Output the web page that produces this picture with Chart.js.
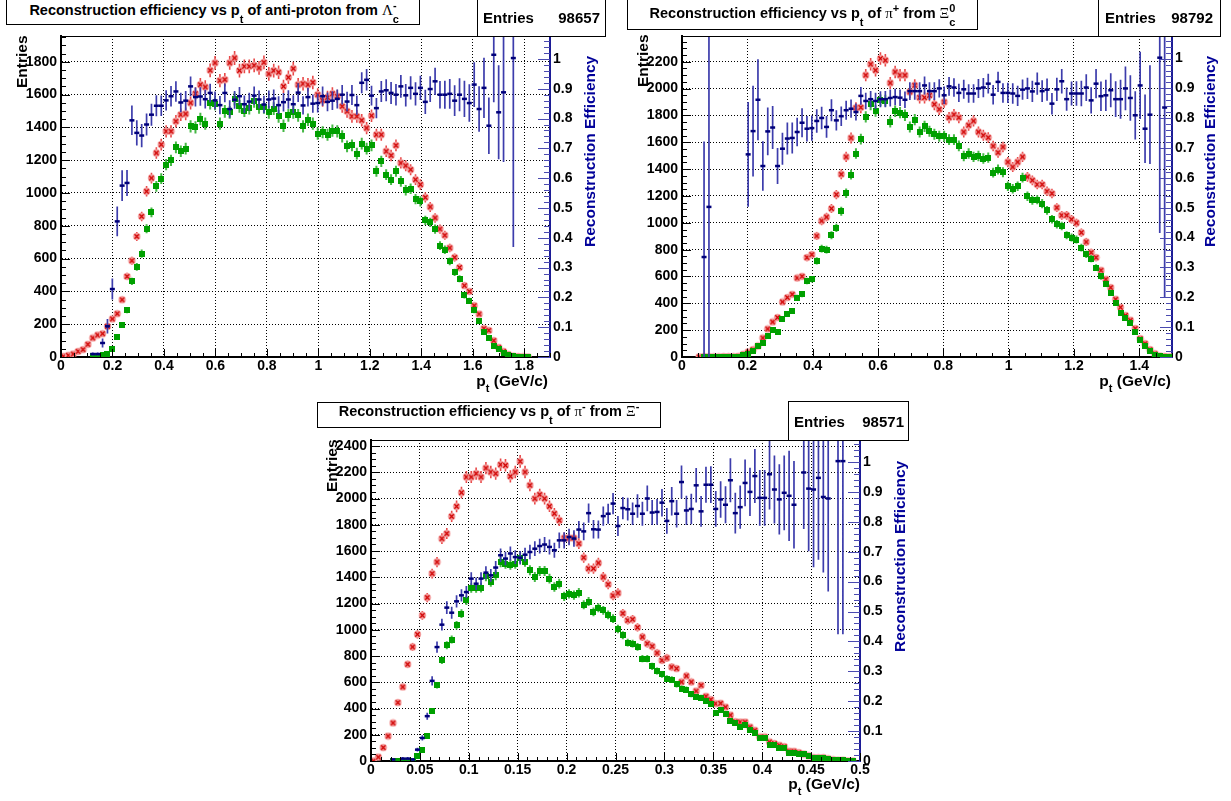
<!DOCTYPE html>
<html>
<head>
<meta charset="utf-8">
<script src="https://cdn.jsdelivr.net/npm/chart.js@4.4.1/dist/chart.umd.min.js"></script>
<style>
  body { margin:0; width:1231px; height:801px; background:#fff; position:relative; overflow:hidden;
         font-family:"Liberation Sans", Arial, Helvetica, sans-serif; font-weight:bold; color:#000; }
  canvas { position:absolute; display:block; }
  .pave { position:absolute; box-sizing:border-box; border:1px solid #000; background:#fff; }
  .t { position:absolute; white-space:nowrap; line-height:18px; }
  .ttl { font-size:14.5px; text-align:center; }
  .stat { font-size:15px; display:flex; justify-content:space-between; }
  .ax { font-size:15.5px; }
  .rot { transform-origin:0 0; transform:rotate(-90deg); }
  .eff { color:#000099; }
  .gr { font-family:"Liberation Serif", "DejaVu Serif", serif; font-weight:normal; font-size:15px; }
  .sub { font-size:11px; position:relative; top:8px; }
  .sup { font-size:11px; position:relative; top:-6px; }
  .stack { margin-left:-6px; }
  .xsub { font-size:11px; position:relative; top:6px; }
</style>
</head>
<body>

<canvas id="c1" width="615" height="395" style="left:0;top:0"></canvas>
<canvas id="c2" width="616" height="395" style="left:615px;top:0"></canvas>
<canvas id="c3" width="640" height="406" style="left:300px;top:395px"></canvas>

<!-- panel 1 texts -->
<div class="pave" style="left:6px;top:-1px;width:414px;height:26px"></div>
<div class="t ttl" style="left:6px;top:1px;width:414px">Reconstruction efficiency vs p<span class="sub">t</span> of anti-proton from <span class="gr">Λ</span><span class="sub">c</span><span class="sup stack">-</span></div>
<div class="pave" style="left:477px;top:-1px;width:129px;height:38px"></div>
<div class="t stat" style="left:483px;top:8.5px;width:117px"><span>Entries</span><span>98657</span></div>
<div class="t ax rot" style="left:12.6px;top:88px">Entries</div>
<div class="t ax rot eff" style="left:580.6px;top:247px">Reconstruction Efficiency</div>
<div class="t ax" style="right:683px;top:371.6px">p<span class="xsub">t</span> (GeV/c)</div>

<!-- panel 2 texts -->
<div class="pave" style="left:627px;top:-1px;width:351px;height:31px"></div>
<div class="t ttl" style="left:627px;top:3.5px;width:351px">Reconstruction efficiency vs p<span class="sub">t</span> of <span class="gr">π</span><span class="sup">+</span> from <span class="gr">Ξ</span><span class="sub">c</span><span class="sup stack">0</span></div>
<div class="pave" style="left:1098px;top:-1px;width:123px;height:38px"></div>
<div class="t stat" style="left:1105px;top:9px;width:108px"><span>Entries</span><span>98792</span></div>
<div class="t ax rot" style="left:633.6px;top:87px">Entries</div>
<div class="t ax rot eff" style="left:1200.6px;top:247px">Reconstruction Efficiency</div>
<div class="t ax" style="right:60px;top:371.6px">p<span class="xsub">t</span> (GeV/c)</div>

<!-- panel 3 texts -->
<div class="pave" style="left:317px;top:402px;width:344px;height:26px"></div>
<div class="t ttl" style="left:317px;top:402px;width:344px">Reconstruction efficiency vs p<span class="sub">t</span> of <span class="gr">π</span><span class="sup">-</span> from <span class="gr">Ξ</span><span class="sup">-</span></div>
<div class="pave" style="left:788px;top:401px;width:121px;height:40px"></div>
<div class="t stat" style="left:794px;top:413px;width:110px"><span>Entries</span><span>98571</span></div>
<div class="t ax rot" style="left:322.6px;top:492px">Entries</div>
<div class="t ax rot eff" style="left:890.6px;top:652px">Reconstruction Efficiency</div>
<div class="t ax" style="right:371px;top:775px">p<span class="xsub">t</span> (GeV/c)</div>

<script>
const FONT = '"Liberation Sans", Arial, Helvetica, sans-serif';
const NBINS = 100;

// histogram ranges (100 bins each)
const P1_RANGE = [0, 1.9];
const P2_RANGE = [0, 1.5];
const P3_RANGE = [0, 0.5];

// tick labels
const P1_XTICKS = [0, 0.2, 0.4, 0.6, 0.8, 1, 1.2, 1.4, 1.6, 1.8];
const P1_YTICKS = [0, 200, 400, 600, 800, 1000, 1200, 1400, 1600, 1800];
const P2_XTICKS = [0, 0.2, 0.4, 0.6, 0.8, 1, 1.2, 1.4];
const P2_YTICKS = [0, 200, 400, 600, 800, 1000, 1200, 1400, 1600, 1800, 2000, 2200];
const P3_XTICKS = [0, 0.05, 0.1, 0.15, 0.2, 0.25, 0.3, 0.35, 0.4, 0.45, 0.5];
const P3_YTICKS = [0, 200, 400, 600, 800, 1000, 1200, 1400, 1600, 1800, 2000, 2200, 2400];
const EFF_TICKS = [0, 0.1, 0.2, 0.3, 0.4, 0.5, 0.6, 0.7, 0.8, 0.9, 1];

// anti-proton from Lambda_c : all (red), reconstructed (green), efficiency (blue)
const P1_ALL = [
  4, 10, 18, 34, 45, 77, 116, 134, 142, 187,
  232, 264, 349, 491, 587, 735, 857, 1010, 1091, 1244,
  1295, 1376, 1376, 1437, 1477, 1482, 1549, 1605, 1660, 1646,
  1748, 1793, 1685, 1691, 1793, 1823, 1746, 1772, 1772, 1778,
  1762, 1796, 1726, 1746, 1736, 1650, 1705, 1758, 1660, 1666,
  1660, 1674, 1599, 1565, 1583, 1605, 1589, 1528, 1498, 1467,
  1467, 1443, 1396, 1471, 1355, 1355, 1254, 1229, 1290, 1183,
  1166, 1142, 1081, 1051, 973, 915, 848, 780, 742, 665,
  607, 546, 435, 400, 313, 262, 173, 162, 100, 59,
  34, 15, 5, 3, 1, 0, null, null, null, null
];
const P1_RECO = [
  null, null, null, null, null, null, 4, 4, 10, 20,
  51, 120, 197, 284, 461, 549, 630, 782, 882, 1040,
  1087, 1173, 1199, 1278, 1254, 1270, 1406, 1400, 1451, 1423,
  1549, 1543, 1423, 1498, 1491, 1573, 1528, 1502, 1518, 1559,
  1522, 1522, 1491, 1514, 1467, 1410, 1473, 1491, 1473, 1406,
  1447, 1423, 1362, 1370, 1355, 1380, 1376, 1345, 1284, 1290,
  1240, 1301, 1270, 1290, 1132, 1193, 1112, 1081, 1132, 1071,
  1016, 1026, 963, 949, 833, 821, 780, 679, 654, 583,
  516, 477, 376, 343, 284, 217, 150, 115, 68, 50,
  25, 12, 5, 2, 0, 0, null, null, null, null
];
const P1_EFF = [
  null, null, null, null, null, null, 0.01, 0.01, 0.047, 0.103,
  0.228, 0.455, 0.575, 0.584, 0.794, 0.752, 0.743, 0.78, 0.813, 0.843,
  0.843, 0.861, 0.875, 0.891, 0.854, 0.86, 0.908, 0.872, 0.874, 0.865,
  0.886, 0.861, 0.845, 0.886, 0.832, 0.863, 0.875, 0.848, 0.857, 0.877,
  0.864, 0.847, 0.864, 0.867, 0.845, 0.855, 0.864, 0.848, 0.887, 0.844,
  0.872, 0.85, 0.852, 0.875, 0.856, 0.86, 0.866, 0.88, 0.857, 0.879,
  0.845, 0.92, 0.93, 0.877, 0.835, 0.891, 0.895, 0.886, 0.88, 0.908,
  0.878, 0.903, 0.883, 0.903, 0.856, 0.899, 0.925, 0.88, 0.88, 0.883,
  0.86, 0.88, 0.866, 0.852, 0.914, 0.832, 0.903, 0.776, 1.014, 0.821,
  0.888, null, 1.003, null, null, null, null, null, null, null
];

// pi+ from Xi_c^0
const P2_ALL = [
  null, null, null, 0, 3, 2, 1, 1, 3, 3,
  2, 5, 20, 37, 55, 82, 142, 209, 261, 294,
  410, 443, 467, 589, 601, 741, 763, 902, 1014, 1043,
  1106, 1210, 1362, 1491, 1632, 1856, 1860, 2100, 2182, 2137,
  2224, 2211, 2042, 2124, 2100, 2100, 1975, 2025, 1933, 1933,
  1950, 1883, 1846, 1900, 1784, 1806, 1784, 1677, 1727, 1759,
  1677, 1652, 1635, 1572, 1523, 1565, 1453, 1416, 1453, 1491,
  1342, 1317, 1285, 1285, 1235, 1218, 1113, 1056, 1056, 1026,
  999, 927, 857, 778, 741, 646, 579, 517, 430, 370,
  310, 274, 212, 137, 100, 55, 25, 7, 4, 1
];
const P2_RECO = [
  null, null, null, null, 1, 1, 0, 0, 2, 2,
  0, 0, 12, 25, 45, 80, 104, 157, 199, 186,
  286, 318, 343, 443, 467, 566, 579, 716, 808, 800,
  907, 962, 1086, 1220, 1359, 1516, 1623, 1789, 1883, 1834,
  1913, 1910, 1752, 1831, 1821, 1801, 1714, 1769, 1677, 1719,
  1682, 1660, 1645, 1645, 1620, 1620, 1573, 1498, 1516, 1491,
  1498, 1479, 1486, 1374, 1397, 1376, 1272, 1253, 1273, 1337,
  1198, 1168, 1172, 1143, 1093, 1026, 989, 976, 907, 890,
  875, 815, 765, 733, 666, 600, 545, 480, 400, 330,
  290, 250, 190, 125, 80, 43, 18, 5, 3, 1
];
const P2_EFF = [
  null, null, null, null, 0.335, 0.503, null, null, null, null,
  null, null, null, 0.679, 0.757, 0.862, 0.64, 0.756, 0.769, 0.64,
  0.698, 0.732, 0.734, 0.754, 0.785, 0.765, 0.767, 0.791, 0.801, 0.771,
  0.827, 0.793, 0.807, 0.827, 0.832, 0.821, 0.875, 0.858, 0.864, 0.858,
  0.864, 0.864, 0.868, 0.871, 0.869, 0.862, 0.891, 0.891, 0.891, 0.91,
  0.891, 0.891, 0.9, 0.877, 0.907, 0.903, 0.885, 0.897, 0.883, 0.883,
  0.9, 0.903, 0.916, 0.879, 0.922, 0.885, 0.885, 0.883, 0.875, 0.896,
  0.9, 0.89, 0.916, 0.891, 0.896, 0.849, 0.897, 0.924, 0.864, 0.883,
  0.883, 0.883, 0.903, 0.86, 0.916, 0.874, 0.877, 0.894, 0.864, 0.864,
  0.9, 0.868, 0.81, 0.91, 0.765, 0.812, null, 1.003, 0.836, null
];

// pi- from Xi-
const P3_ALL = [
  0, 30, 102, 190, 290, 445, 564, 737, 869, 965,
  1110, 1245, 1428, 1516, 1694, 1733, 1864, 1940, 2045, 2164,
  2164, 2190, 2164, 2232, 2202, 2190, 2258, 2253, 2169, 2202,
  2283, 2202, 2101, 1999, 2030, 1999, 1941, 1885, 1834, 1699,
  1699, 1699, 1656, 1550, 1466, 1466, 1509, 1402, 1346, 1260,
  1280, 1125, 1072, 1080, 1018, 945, 894, 874, 823, 767,
  785, 716, 704, 602, 648, 602, 533, 577, 493, 468,
  437, 440, 411, 350, 300, 297, 297, 259, 234, 183,
  183, 145, 133, 120, 110, 75, 74, 64, 53, 40,
  26, 25, 26, 17, 9, 6, 6, 0, 0, null
];
const P3_RECO = [
  null, null, null, null, 1, 0, 2, 2, 1, 38,
  82, 190, 381, 577, 767, 882, 925, 1034, 1123, 1224,
  1318, 1318, 1321, 1407, 1364, 1415, 1516, 1504, 1496, 1504,
  1550, 1520, 1453, 1402, 1448, 1448, 1390, 1326, 1352, 1254,
  1273, 1264, 1282, 1190, 1215, 1136, 1168, 1148, 1113, 1085,
  1006, 958, 902, 894, 869, 780, 780, 721, 686, 660,
  628, 620, 584, 552, 544, 508, 488, 483, 455, 437,
  366, 386, 356, 305, 290, 259, 272, 239, 213, 175,
  175, 122, 122, 102, 97, 64, 64, 56, 51, 36,
  23, 23, 23, 15, 8, 6, 6, 0, 0, null
];
const P3_EFF = [
  null, null, null, null, 0.005, null, 0.008, 0.008, 0.005, 0.038,
  0.077, 0.15, 0.268, 0.381, 0.456, 0.513, 0.496, 0.534, 0.554, 0.565,
  0.61, 0.593, 0.61, 0.63, 0.621, 0.647, 0.688, 0.677, 0.694, 0.682,
  0.68, 0.69, 0.699, 0.71, 0.719, 0.724, 0.716, 0.705, 0.738, 0.738,
  0.749, 0.744, 0.774, 0.768, 0.829, 0.775, 0.774, 0.819, 0.827, 0.861,
  0.786, 0.846, 0.842, 0.827, 0.853, 0.827, 0.878, 0.831, 0.833, 0.864,
  0.803, 0.869, 0.827, 0.933, 0.838, 0.843, 0.922, 0.835, 0.924, 0.924,
  0.843, 0.875, 0.857, 0.939, 0.829, 0.849, 0.93, 0.9, 0.953, 0.88,
  0.88, 0.959, 0.908, 0.875, 0.897, 0.887, 0.857, null, 0.965, 0.911,
  0.908, 0.947, 0.883, 0.878, null, 1.003, 1.003, null, null, null
];

const AXIS_BLUE = '#1c1c96';

function binCenters(range) {
  const w = (range[1] - range[0]) / NBINS;
  return Array.from({ length: NBINS }, (_, i) => range[0] + (i + 0.5) * w);
}

// poisson errors on counts
function countPoints(vals, xc) {
  return vals.map((v, i) => v === null ? null : { x: xc[i], y: v, e: Math.sqrt(v) }).filter(Boolean);
}

// ratio errors from the two count histograms
function effPoints(vals, reco, all, xc) {
  return vals.map((v, i) => {
    if (v === null) return null;
    const g = reco[i], r = all[i];
    const e = g > 0 && r > 0 ? v * Math.sqrt(1 / g + 1 / r) : 0;
    return { x: xc[i], y: v, e: e };
  }).filter(Boolean);
}

function marker(size, draw) {
  const c = document.createElement('canvas');
  c.width = c.height = size;
  draw(c.getContext('2d'), size / 2);
  return c;
}
const redMark = marker(9, (g, m) => {
  g.fillStyle = '#f39a9a';
  g.beginPath(); g.arc(m, m, 3.7, 0, 2 * Math.PI); g.fill();
  g.strokeStyle = '#d00000'; g.lineWidth = 1.3;
  g.beginPath();
  g.moveTo(m - 2.2, m - 2.2); g.lineTo(m + 2.2, m + 2.2);
  g.moveTo(m + 2.2, m - 2.2); g.lineTo(m - 2.2, m + 2.2);
  g.stroke();
});
const greenMark = marker(6, (g) => { g.fillStyle = '#00a000'; g.fillRect(0, 0, 6, 6); });

const errorBars = {
  id: 'errorBars',
  beforeDatasetDraw(chart, args) {
    const ds = chart.data.datasets[args.index];
    if (!ds.errColor) return;
    const { ctx, chartArea: a } = chart;
    const xs = chart.scales[args.meta.xAxisID];
    const ys = chart.scales[args.meta.yAxisID];
    ctx.save();
    ctx.beginPath();
    ctx.rect(a.left, a.top, a.right - a.left, a.bottom - a.top);
    ctx.clip();
    ctx.strokeStyle = ds.errColor;
    ctx.lineWidth = ds.errWidth;
    ctx.beginPath();
    ds.data.forEach(p => {
      if (!p.e) return;
      const px = xs.getPixelForValue(p.x);
      ctx.moveTo(px, ys.getPixelForValue(p.y - p.e));
      ctx.lineTo(px, ys.getPixelForValue(p.y + p.e));
    });
    ctx.stroke();
    ctx.restore();
  }
};

// inward tick marks, top frame line
const axisDecor = {
  id: 'axisDecor',
  afterDraw(chart, args, o) {
    const { ctx, chartArea: a, scales } = chart;
    const marks = (scale, step, major) => {
      const out = [];
      for (let k = 0; k * step <= scale.max + 1e-9; k++) {
        const v = k * step;
        const big = Math.abs(v / major - Math.round(v / major)) < 1e-6;
        out.push([Math.round(scale.getPixelForValue(v)) + 0.5, big]);
      }
      return out;
    };
    ctx.save();
    ctx.lineWidth = 1;
    ctx.strokeStyle = '#000';
    ctx.beginPath();
    ctx.moveTo(a.left, a.top + 0.5); ctx.lineTo(a.right, a.top + 0.5);
    marks(scales.x, o.xMinor, o.xMajor).forEach(([p, big]) => {
      ctx.moveTo(p, a.bottom); ctx.lineTo(p, a.bottom - (big ? 8 : 4));
    });
    marks(scales.y, o.yMinor, o.yMajor).forEach(([p, big]) => {
      ctx.moveTo(a.left, p); ctx.lineTo(a.left + (big ? 9 : 5), p);
    });
    ctx.stroke();
    ctx.strokeStyle = '#4a4ab0';
    ctx.beginPath();
    marks(scales.y2, 0.02, 0.1).forEach(([p, big]) => {
      ctx.moveTo(a.right, p); ctx.lineTo(a.right - (big ? 12 : 6), p);
    });
    ctx.stroke();
    ctx.restore();
  }
};

function makePanel(cfg) {
  const xc = binCenters(cfg.range);
  const tickFont = { family: FONT, size: 14, weight: 'bold' };
  const label = v => String(v);
  new Chart(document.getElementById(cfg.id), {
    type: 'scatter',
    data: {
      datasets: [
        {
          label: 'efficiency', yAxisID: 'y2', order: 0,
          data: effPoints(cfg.eff, cfg.reco, cfg.all, xc),
          pointStyle: 'line', pointRadius: 2.5,
          pointBorderColor: '#00007a', pointBorderWidth: 2.5,
          errColor: '#3d3dac', errWidth: 1.7
        },
        {
          label: 'reconstructed', yAxisID: 'y', order: 1,
          data: countPoints(cfg.reco, xc),
          pointStyle: greenMark, pointRadius: 3,
          errColor: '#46b846', errWidth: 2
        },
        {
          label: 'all', yAxisID: 'y', order: 2,
          data: countPoints(cfg.all, xc),
          pointStyle: redMark, pointRadius: 3,
          errColor: '#e84848', errWidth: 1.6
        }
      ]
    },
    options: {
      responsive: false,
      animation: false,
      events: [],
      layout: { padding: { top: cfg.area.t, left: 0, right: 0, bottom: 0 } },
      plugins: {
        legend: { display: false },
        tooltip: { enabled: false },
        axisDecor: { xMinor: cfg.xMinor, xMajor: cfg.xMajor, yMinor: 50, yMajor: 200 }
      },
      scales: {
        x: {
          type: 'linear', position: 'bottom', min: cfg.range[0], max: cfg.range[1],
          afterBuildTicks: s => { s.ticks = cfg.xt.map(v => ({ value: v })); },
          afterFit: s => { s.height = cfg.h - cfg.area.b; },
          ticks: { font: tickFont, color: '#000', padding: 1, maxRotation: 0, autoSkip: false, callback: label },
          grid: { color: '#000', lineWidth: 1, drawTicks: false },
          border: { display: true, color: '#000', width: 2, dash: [1, 2] }
        },
        y: {
          type: 'linear', position: 'left', min: 0, max: cfg.ymax,
          afterBuildTicks: s => { s.ticks = cfg.yt.map(v => ({ value: v })); },
          afterFit: s => { s.width = cfg.area.l; },
          ticks: { font: tickFont, color: '#000', padding: 4, autoSkip: false, callback: label },
          grid: { color: '#000', lineWidth: 1, drawTicks: false },
          border: { display: true, color: '#000', width: 2, dash: [1, 2] }
        },
        y2: {
          type: 'linear', position: 'right', min: 0, max: cfg.y2max,
          afterBuildTicks: s => { s.ticks = EFF_TICKS.map(v => ({ value: v })); },
          afterFit: s => { s.width = cfg.w - cfg.area.r; },
          ticks: { font: tickFont, color: '#000', padding: 3, autoSkip: false, callback: label },
          grid: { display: true, drawOnChartArea: false, drawTicks: false },
          border: { display: true, color: AXIS_BLUE, width: 2 }
        }
      }
    },
    plugins: [errorBars, axisDecor]
  });
}

makePanel({ id: 'c1', w: 615, h: 395, area: { l: 61, r: 550, t: 36, b: 357 },
  range: P1_RANGE, xt: P1_XTICKS, yt: P1_YTICKS, ymax: 1957, y2max: 1.077,
  xMinor: 0.05, xMajor: 0.2, all: P1_ALL, reco: P1_RECO, eff: P1_EFF });
makePanel({ id: 'c2', w: 616, h: 395, area: { l: 67, r: 557, t: 36, b: 357 },
  range: P2_RANGE, xt: P2_XTICKS, yt: P2_YTICKS, ymax: 2392, y2max: 1.0757,
  xMinor: 0.05, xMajor: 0.2, all: P2_ALL, reco: P2_RECO, eff: P2_EFF });
makePanel({ id: 'c3', w: 640, h: 406, area: { l: 71, r: 560, t: 45, b: 366 },
  range: P3_RANGE, xt: P3_XTICKS, yt: P3_YTICKS, ymax: 2446, y2max: 1.0736,
  xMinor: 0.01, xMajor: 0.05, all: P3_ALL, reco: P3_RECO, eff: P3_EFF });
</script>
</body>
</html>
